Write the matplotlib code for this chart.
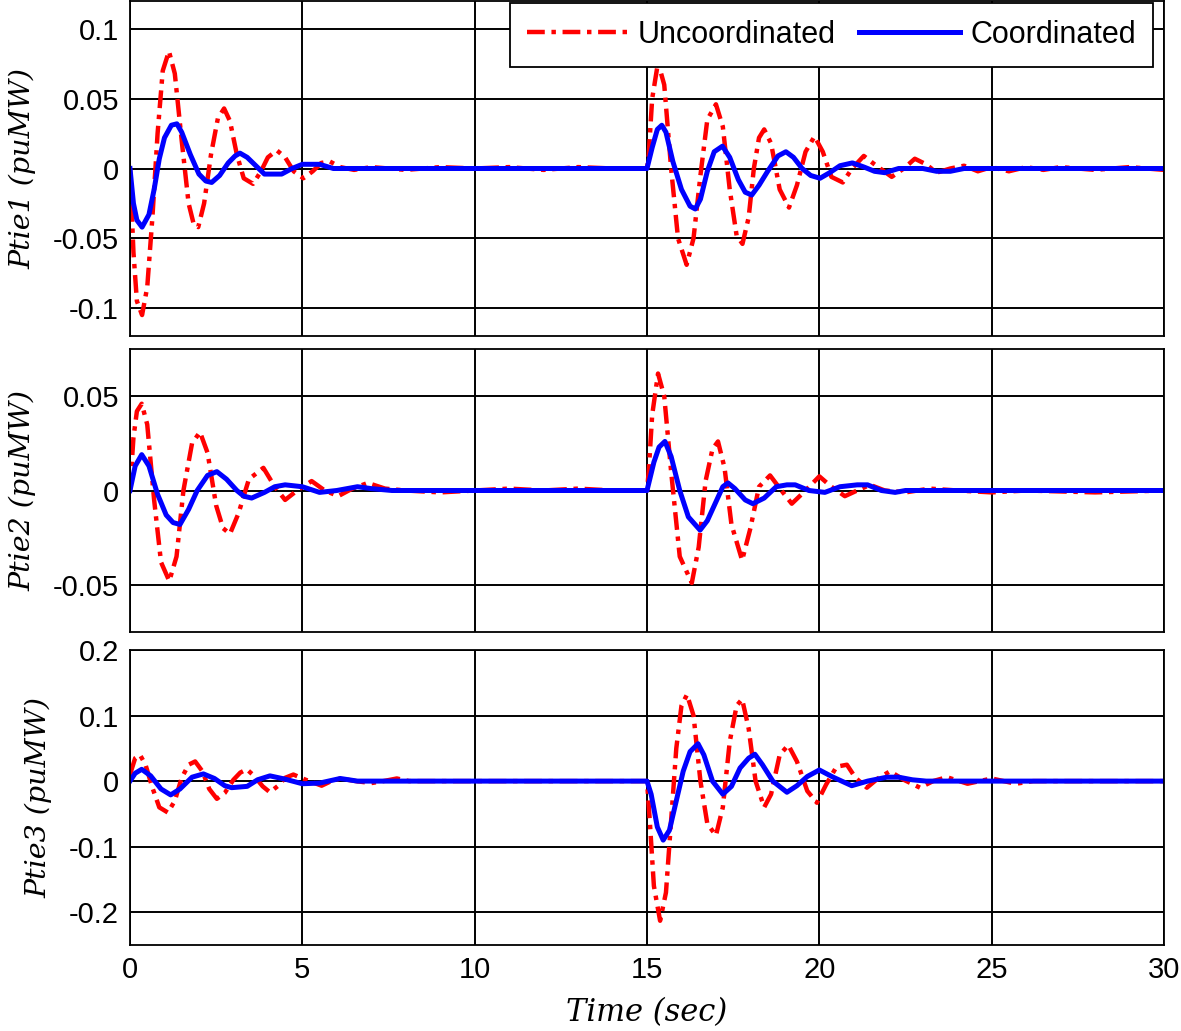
""" Tie-line power deviation plots (uncoordinated vs coordinated)
"""
import numpy as np
import matplotlib
matplotlib.use('Agg')
from matplotlib import pyplot as plt

# Ptie1
t1_unc = [0, 0.1, 0.2, 0.35, 0.5, 0.65, 0.8, 0.95, 1.13, 1.3, 1.5, 1.7, 1.85, 1.98, 2.15, 2.35, 2.55,
          2.73, 2.9, 3.1, 3.3, 3.57, 3.8, 4.0, 4.26, 4.5, 4.75, 5.03, 5.3, 5.55, 5.8, 6.1, 6.5, 7, 8, 9,
          10, 11, 12, 13, 14, 15,
          15.05, 15.15, 15.32, 15.5, 15.7, 15.9, 16.15, 16.35, 16.55, 16.75, 17.0, 17.2, 17.4, 17.6,
          17.77, 17.95, 18.1, 18.25, 18.4, 18.6, 18.85, 19.12, 19.35, 19.6, 19.86, 20.1, 20.35, 20.68,
          20.95, 21.29, 21.6, 22.1, 22.45, 22.77, 23.1, 23.4, 23.8, 24.2, 24.6, 25.0, 25.5, 26.0, 26.5,
          27, 28, 29, 30]
p1_unc = [0, -0.06, -0.095, -0.105, -0.085, -0.035, 0.025, 0.07, 0.084, 0.068, 0.02, -0.025, -0.04,
          -0.042, -0.025, 0.01, 0.036, 0.043, 0.034, 0.01, -0.007, -0.011, -0.002, 0.008, 0.013, 0.008,
          -0.002, -0.007, -0.002, 0.004, 0.005, 0.001, -0.001, 0.001, -0.001, 0.001, 0, 0.001, -0.001,
          0.001, 0, 0,
          0.01, 0.05, 0.076, 0.06, 0.0, -0.05, -0.069, -0.05, -0.005, 0.035, 0.046, 0.03, -0.015,
          -0.048, -0.054, -0.035, 0.0, 0.022, 0.028, 0.018, -0.015, -0.028, -0.012, 0.012, 0.023,
          0.012, -0.006, -0.010, 0.0, 0.009, 0.003, -0.006, 0.0, 0.007, 0.003, -0.003, 0.0, 0.002,
          -0.002, 0.001, -0.002, 0.001, -0.001, 0.001, -0.001, 0.001, -0.001]
t1_coo = [0, 0.1, 0.2, 0.35, 0.55, 0.7, 0.85, 1.0, 1.2, 1.36, 1.5, 1.75, 2.0, 2.2, 2.37, 2.6, 2.85,
          3.05, 3.19, 3.4, 3.65, 3.9, 4.4, 4.7, 5.0, 5.5, 5.9, 15.0,
          15.15, 15.3, 15.43, 15.55, 15.75, 16.0, 16.25, 16.4, 16.55, 16.75, 16.95, 17.19, 17.4,
          17.65, 17.85, 18.04, 18.25, 18.5, 18.8, 19.03, 19.25, 19.5, 19.75, 20.02, 20.3, 20.6,
          20.96, 21.3, 21.6, 21.9, 22.3, 23.0, 23.4, 23.8, 24.2, 30]
p1_coo = [0, -0.025, -0.037, -0.042, -0.033, -0.015, 0.007, 0.022, 0.031, 0.032, 0.026, 0.01,
          -0.004, -0.009, -0.010, -0.005, 0.004, 0.009, 0.011, 0.008, 0.002, -0.004, -0.004, 0.0,
          0.003, 0.003, 0.0, 0.0,
          0.015, 0.028, 0.031, 0.026, 0.005, -0.015, -0.027, -0.029, -0.022, -0.002, 0.012, 0.016,
          0.008, -0.008, -0.017, -0.019, -0.012, -0.002, 0.009, 0.012, 0.008, 0.0, -0.005, -0.007,
          -0.003, 0.002, 0.004, 0.001, -0.002, -0.003, 0.0, 0.0, -0.002, -0.002, 0.0, 0.0]

# Ptie2
t2_unc = [0, 0.1, 0.2, 0.34, 0.5, 0.7, 0.9, 1.14, 1.35, 1.55, 1.8, 2.03, 2.25, 2.5, 2.7, 2.9, 3.15,
          3.45, 3.87, 4.2, 4.5, 4.85, 5.27, 5.65, 6.04, 6.45, 6.9, 7.4, 8, 9, 10, 11, 12, 13, 14, 15,
          15.05, 15.15, 15.32, 15.5, 15.7, 15.95, 16.3, 16.5, 16.7, 16.9, 17.06, 17.25, 17.45, 17.76,
          18.0, 18.25, 18.57, 18.9, 19.2, 19.6, 20.0, 20.35, 20.74, 21.1, 21.47, 21.9, 22.5, 23.2,
          24, 25, 26, 28, 30]
p2_unc = [0, 0.028, 0.042, 0.046, 0.035, -0.005, -0.038, -0.048, -0.035, 0.0, 0.025, 0.031, 0.02,
          -0.008, -0.02, -0.023, -0.012, 0.006, 0.012, 0.002, -0.005, 0.0, 0.005, 0.0, -0.003, 0.001,
          0.004, 0.001, 0.0, -0.001, 0, 0.001, 0, 0.001, 0, 0,
          0.01, 0.04, 0.062, 0.05, 0.01, -0.035, -0.049, -0.03, 0.005, 0.022, 0.026, 0.012, -0.018,
          -0.037, -0.02, 0.002, 0.008, 0.0, -0.007, 0.0, 0.0075, 0.002, -0.003, 0.0, 0.003, 0.0,
          -0.001, 0.001, 0, -0.001, 0, -0.001, 0]
t2_coo = [0, 0.15, 0.34, 0.55, 0.8, 1.05, 1.25, 1.45, 1.7, 1.95, 2.25, 2.52, 2.8, 3.1, 3.3, 3.53,
          3.9, 4.2, 4.5, 5.0, 5.5, 6.0, 6.6, 7.0, 7.6, 15.0,
          15.2, 15.35, 15.52, 15.7, 15.95, 16.2, 16.54, 16.75, 17.0, 17.2, 17.35, 17.55, 17.85,
          18.07, 18.4, 18.75, 19.06, 19.3, 19.7, 20.16, 20.6, 21.1, 21.4, 21.8, 22.2, 22.5, 30]
p2_coo = [0, 0.013, 0.019, 0.013, -0.002, -0.013, -0.017, -0.018, -0.01, 0.0, 0.008, 0.010, 0.006,
          0.0, -0.003, -0.004, -0.001, 0.002, 0.003, 0.002, -0.001, 0.0, 0.002, 0.001, 0.0, 0.0,
          0.015, 0.023, 0.026, 0.018, 0.0, -0.014, -0.021, -0.016, -0.006, 0.002, 0.004, 0.001,
          -0.005, -0.007, -0.004, 0.002, 0.003, 0.003, 0.0, -0.001, 0.002, 0.003, 0.003, 0.0,
          -0.001, 0.0, 0.0]

# Ptie3
t3_unc = [0, 0.15, 0.29, 0.45, 0.65, 0.85, 1.1, 1.3, 1.5, 1.7, 1.89, 2.1, 2.3, 2.52, 2.75, 3.0, 3.2,
          3.39, 3.6, 3.85, 4.06, 4.3, 4.5, 4.74, 5.1, 5.56, 5.8, 6.1, 6.55, 7.0, 7.35, 7.74, 8.1, 9,
          15.0,
          15.08, 15.2, 15.38, 15.55, 15.7, 15.85, 16.0, 16.16, 16.35, 16.55, 16.75, 17.0, 17.2, 17.4,
          17.6, 17.76, 17.95, 18.15, 18.4, 18.6, 18.85, 19.1, 19.35, 19.65, 19.93, 20.2, 20.5, 20.8,
          21.05, 21.38, 21.7, 22.05, 22.45, 22.92, 23.3, 23.7, 24.3, 25.0, 25.7, 26.2, 30]
p3_unc = [0.01, 0.035, 0.040, 0.025, -0.01, -0.04, -0.048, -0.03, 0.005, 0.025, 0.030, 0.015,
          -0.012, -0.027, -0.018, 0.002, 0.013, 0.018, 0.008, -0.008, -0.017, -0.007, 0.005, 0.010,
          0.002, -0.007, -0.001, 0.004, 0.0, -0.003, 0.0, 0.004, 0.0, 0, 0,
          -0.06, -0.16, -0.213, -0.17, -0.06, 0.05, 0.115, 0.132, 0.1, 0.0, -0.065, -0.083, -0.04,
          0.06, 0.115, 0.125, 0.08, 0.0, -0.040, -0.02, 0.04, 0.055, 0.03, -0.015, -0.033, -0.005,
          0.022, 0.025, 0.005, -0.010, 0.004, 0.015, 0.002, -0.010, 0.0, 0.006, -0.004, 0.004,
          -0.004, 0.0, 0]
t3_coo = [0, 0.15, 0.34, 0.6, 0.9, 1.18, 1.45, 1.8, 2.13, 2.45, 2.75, 2.95, 3.4, 3.7, 4.06, 4.5,
          5.0, 5.5, 6.1, 6.6, 15.0,
          15.12, 15.3, 15.47, 15.65, 15.85, 16.05, 16.25, 16.48, 16.65, 16.9, 17.2, 17.45, 17.7,
          17.95, 18.13, 18.35, 18.65, 19.06, 19.35, 19.65, 20.0, 20.4, 20.94, 21.4, 21.96, 22.3,
          22.7, 23.1, 30]
p3_coo = [0, 0.012, 0.018, 0.008, -0.012, -0.021, -0.012, 0.006, 0.011, 0.004, -0.007, -0.010,
          -0.008, 0.002, 0.008, 0.003, -0.004, -0.003, 0.004, 0.0, 0.0,
          -0.02, -0.07, -0.090, -0.075, -0.03, 0.015, 0.045, 0.057, 0.04, 0.0, -0.020, -0.008, 0.02,
          0.035, 0.041, 0.025, 0.0, -0.017, -0.007, 0.007, 0.017, 0.006, -0.007, 0.0, 0.006, 0.006,
          0.002, 0.0, 0.0]

ylabels = ['Ptie1 (puMW)', 'Ptie2 (puMW)', 'Ptie3 (puMW)']
yticks = [[-0.1, -0.05, 0, 0.05, 0.1], [-0.05, 0, 0.05], [-0.2, -0.1, 0, 0.1, 0.2]]
yticklbls = [['-0.1', '-0.05', '0', '0.05', '0.1'], ['-0.05', '0', '0.05'],
             ['-0.2', '-0.1', '0', '0.1', '0.2']]
ylims = [(-0.12, 0.12), (-0.075, 0.075), (-0.25, 0.2)]
xticks = [0, 5, 10, 15, 20, 25, 30]

series = [(t1_unc, p1_unc, t1_coo, p1_coo),
          (t2_unc, p2_unc, t2_coo, p2_coo),
          (t3_unc, p3_unc, t3_coo, p3_coo)]

# Figure layout (pixel boxes of the three panels)
W, H = 1181., 1031.
boxes = [(1, 336), (349, 632), (650, 945)]
x0, x1 = 130., 1164.

plt.rcParams['font.family'] = 'Liberation Sans'
fig = plt.figure(figsize=(W/100, H/100), dpi=100)
lblfont = dict(family='DejaVu Serif', style='italic', size=20.5)

for qq, (top, bot) in enumerate(boxes):
    ax = fig.add_axes([x0/W, 1-bot/H, (x1-x0)/W, (bot-top)/H])
    tu, pu, tc, pc = series[qq]
    ax.plot(tu, pu, color='red', ls='-.', lw=3.2, dashes=(4, 1.5, 1, 1.5),
            label='Uncoordinated')
    ax.plot(tc, pc, color='blue', ls='-', lw=3.6, label='Coordinated')
    ax.set_xlim(0, 30)
    ax.set_ylim(*ylims[qq])
    ax.set_xticks(xticks)
    ax.set_yticks(yticks[qq])
    ax.set_yticklabels(yticklbls[qq])
    ax.grid(True, color='black', lw=1.4, ls='-')
    ax.tick_params(direction='in', length=0, labelsize=21, pad=8)
    for sp in ax.spines.values():
        sp.set_linewidth(1.3)
    ax.set_ylabel(ylabels[qq], fontdict=lblfont, labelpad=12)
    if qq < 2:
        ax.set_xticklabels([])
    else:
        ax.set_xticklabels([str(x) for x in xticks])
        ax.set_xlabel('Time (sec)', fontdict=dict(lblfont, size=22), labelpad=9)
    if qq == 0:
        anchor = ((1153 - x0) / (x1 - x0), 1 - 2. / (bot - top))
        leg = ax.legend(loc='upper right', bbox_to_anchor=anchor, ncol=2, fontsize=22,
                        frameon=True, fancybox=False, edgecolor='black', framealpha=1,
                        handlelength=3.3, columnspacing=0.75, handletextpad=0.35,
                        borderaxespad=0, borderpad=0.55)
        leg.get_frame().set_linewidth(1.3)

fig.savefig('out.png', dpi=100)
plt.close()
